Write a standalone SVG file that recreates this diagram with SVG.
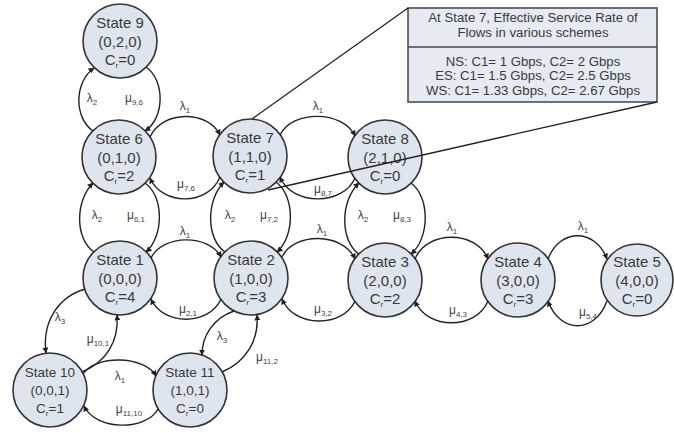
<svg xmlns="http://www.w3.org/2000/svg" width="674" height="433" viewBox="0 0 674 433">
<defs>
<marker id="ah" viewBox="0 0 10 10" refX="9" refY="5" markerWidth="6" markerHeight="6" orient="auto" markerUnits="userSpaceOnUse">
<path d="M0,0 L10,5 L0,10 z" fill="#222"/>
</marker>
<style>
.n{fill:#dfe5ef;stroke:#333;stroke-width:1.6}
.t{font-family:"Liberation Sans",Arial,sans-serif;font-size:15px;fill:#3a3a3a;text-anchor:middle}
.sm{font-size:13.5px}
.a{fill:none;stroke:#222;stroke-width:1.4;marker-end:url(#ah)}
.l{font-family:"Liberation Sans",Arial,sans-serif;font-size:12px;fill:#444;text-anchor:middle}
.s{font-size:8px}
.b{font-family:"Liberation Sans",Arial,sans-serif;font-size:13.2px;fill:#3a3a3a;text-anchor:middle}
.c{fill:none;stroke:#222;stroke-width:1.3}
</style>
</defs>
<rect width="674" height="433" fill="#fff"/>

<g id="nodes">
<g id="s9"><circle class="n" cx="120" cy="41" r="37"/><text class="t" x="120" y="28">State 9</text><text class="t" x="120" y="47">(0,2,0)</text><text class="t" x="120" y="65">C<tspan class="s" dy="3">r</tspan><tspan dy="-3">=0</tspan></text></g>
<g id="s6"><circle class="n" cx="119" cy="157" r="37"/><text class="t" x="119" y="144">State 6</text><text class="t" x="119" y="163">(0,1,0)</text><text class="t" x="119" y="181">C<tspan class="s" dy="3">r</tspan><tspan dy="-3">=2</tspan></text></g>
<g id="s7"><circle class="n" cx="250" cy="156" r="37"/><text class="t" x="250" y="143">State 7</text><text class="t" x="250" y="162">(1,1,0)</text><text class="t" x="250" y="180">C<tspan class="s" dy="3">r</tspan><tspan dy="-3">=1</tspan></text></g>
<g id="s8"><circle class="n" cx="385" cy="157" r="37"/><text class="t" x="385" y="144">State 8</text><text class="t" x="385" y="163">(2,1,0)</text><text class="t" x="385" y="181">C<tspan class="s" dy="3">r</tspan><tspan dy="-3">=0</tspan></text></g>
<g id="s1"><circle class="n" cx="120" cy="278" r="37"/><text class="t" x="120" y="265">State 1</text><text class="t" x="120" y="284">(0,0,0)</text><text class="t" x="120" y="302">C<tspan class="s" dy="3">r</tspan><tspan dy="-3">=4</tspan></text></g>
<g id="s2"><circle class="n" cx="251" cy="278" r="37"/><text class="t" x="251" y="265">State 2</text><text class="t" x="251" y="284">(1,0,0)</text><text class="t" x="251" y="302">C<tspan class="s" dy="3">r</tspan><tspan dy="-3">=3</tspan></text></g>
<g id="s3"><circle class="n" cx="385" cy="280" r="37"/><text class="t" x="385" y="267">State 3</text><text class="t" x="385" y="286">(2,0,0)</text><text class="t" x="385" y="304">C<tspan class="s" dy="3">r</tspan><tspan dy="-3">=2</tspan></text></g>
<g id="s4"><circle class="n" cx="518" cy="280" r="37"/><text class="t" x="518" y="267">State 4</text><text class="t" x="518" y="286">(3,0,0)</text><text class="t" x="518" y="304">C<tspan class="s" dy="3">r</tspan><tspan dy="-3">=3</tspan></text></g>
<g id="s5"><circle class="n" cx="637" cy="280" r="36"/><text class="t" x="637" y="267">State 5</text><text class="t" x="637" y="286">(4,0,0)</text><text class="t" x="637" y="304">C<tspan class="s" dy="3">r</tspan><tspan dy="-3">=0</tspan></text></g>
<g id="s10"><circle class="n" cx="50" cy="390" r="37"/><text class="t sm" x="50" y="377">State 10</text><text class="t sm" x="50" y="395">(0,0,1)</text><text class="t sm" x="50" y="413">C<tspan class="s" dy="3">r</tspan><tspan dy="-3">=1</tspan></text></g>
<g id="s11"><circle class="n" cx="190" cy="390" r="37"/><text class="t sm" x="190" y="377">State 11</text><text class="t sm" x="190" y="395">(1,0,1)</text><text class="t sm" x="190" y="413">C<tspan class="s" dy="3">r</tspan><tspan dy="-3">=0</tspan></text></g>
</g>

<g id="connectors">
<path class="a" d="M93,131 C74,118 74,82 94,68"/>
<path class="a" d="M146,67 C165,80 165,118 145,131"/>
<path class="a" d="M94,252 C75,239 75,201 93,183"/>
<path class="a" d="M145,183 C164,196 164,236 146,252"/>
<path class="a" d="M225,252 C206,239 206,200 224,182"/>
<path class="a" d="M276,182 C295,196 295,236 277,252"/>
<path class="a" d="M359,254 C340,241 340,201 359,183"/>
<path class="a" d="M411,183 C430,197 430,238 411,254"/>
<path class="a" d="M150,137 C162,110 208,110 220,135"/>
<path class="a" d="M220,177 C208,206 162,206 150,178"/>
<path class="a" d="M280,135 C292,110 343,110 355,136"/>
<path class="a" d="M355,178 C343,206 292,206 280,177"/>
<path class="a" d="M151,258 C163,234 209,234 221,257"/>
<path class="a" d="M221,299 C209,326 163,326 151,299"/>
<path class="a" d="M282,257 C294,232 343,232 355,259"/>
<path class="a" d="M355,301 C343,328 294,328 282,299"/>
<path class="a" d="M415,259 C427,230 476,230 488,259"/>
<path class="a" d="M488,301 C476,330 427,330 415,301"/>
<path class="a" d="M548,259 C560,228 595,228 607,259"/>
<path class="a" d="M607,301 C595,334 560,334 548,301"/>
<path class="a" d="M85,289 C58,297 42,322 46,353"/>
<path class="a" d="M82,372 C106,362 119,342 117,315"/>
<path class="a" d="M234,311 C214,318 202,335 202,355"/>
<path class="a" d="M222,372 C246,362 259,340 257,315"/>
<path class="a" d="M83,374 C95,355 144,355 156,376"/>
<path class="a" d="M158,409 C146,431 96,431 84,406"/>
</g>

<g id="labels">
<text class="l" x="92" y="102">λ<tspan class="s" dy="3">2</tspan></text>
<text class="l" x="134" y="102">μ<tspan class="s" dy="3">9,6</tspan></text>
<text class="l" x="97" y="219">λ<tspan class="s" dy="3">2</tspan></text>
<text class="l" x="136" y="219">μ<tspan class="s" dy="3">6,1</tspan></text>
<text class="l" x="230" y="219">λ<tspan class="s" dy="3">2</tspan></text>
<text class="l" x="269" y="219">μ<tspan class="s" dy="3">7,2</tspan></text>
<text class="l" x="363" y="219">λ<tspan class="s" dy="3">2</tspan></text>
<text class="l" x="402" y="219">μ<tspan class="s" dy="3">8,3</tspan></text>
<text class="l" x="185" y="110">λ<tspan class="s" dy="3">1</tspan></text>
<text class="l" x="186" y="188">μ<tspan class="s" dy="3">7,6</tspan></text>
<text class="l" x="318" y="110">λ<tspan class="s" dy="3">1</tspan></text>
<text class="l" x="323" y="193">μ<tspan class="s" dy="3">8,7</tspan></text>
<text class="l" x="185" y="235">λ<tspan class="s" dy="3">1</tspan></text>
<text class="l" x="188" y="313">μ<tspan class="s" dy="3">2,1</tspan></text>
<text class="l" x="322" y="233">λ<tspan class="s" dy="3">1</tspan></text>
<text class="l" x="323" y="313">μ<tspan class="s" dy="3">3,2</tspan></text>
<text class="l" x="452" y="231">λ<tspan class="s" dy="3">1</tspan></text>
<text class="l" x="458" y="314">μ<tspan class="s" dy="3">4,3</tspan></text>
<text class="l" x="583" y="230">λ<tspan class="s" dy="3">1</tspan></text>
<text class="l" x="588" y="316">μ<tspan class="s" dy="3">5,4</tspan></text>
<text class="l" x="60" y="321">λ<tspan class="s" dy="3">3</tspan></text>
<text class="l" x="98" y="343">μ<tspan class="s" dy="3">10,1</tspan></text>
<text class="l" x="222" y="340">λ<tspan class="s" dy="3">3</tspan></text>
<text class="l" x="267" y="361">μ<tspan class="s" dy="3">11,2</tspan></text>
<text class="l" x="120" y="380">λ<tspan class="s" dy="3">1</tspan></text>
<text class="l" x="129" y="413">μ<tspan class="s" dy="3">11,10</tspan></text>
</g>

<g id="callout">
<rect x="408" y="8" width="249" height="94" fill="#e6eaf2" stroke="#444" stroke-width="1.5"/>
<line x1="408" y1="47" x2="657" y2="47" stroke="#444" stroke-width="1.5"/>
<text class="b" x="533" y="22">At State 7, Effective Service Rate of</text>
<text class="b" x="533" y="37">Flows in various schemes</text>
<text class="b" x="533" y="66">NS: C1= 1 Gbps, C2= 2 Gbps</text>
<text class="b" x="533" y="80">ES: C1= 1.5 Gbps, C2= 2.5 Gbps</text>
<text class="b" x="533" y="95">WS: C1= 1.33 Gbps, C2= 2.67 Gbps</text>
<path class="c" d="M408,8 L252,119"/>
<path class="c" d="M657,102 L268,190"/>
</g>
</svg>
